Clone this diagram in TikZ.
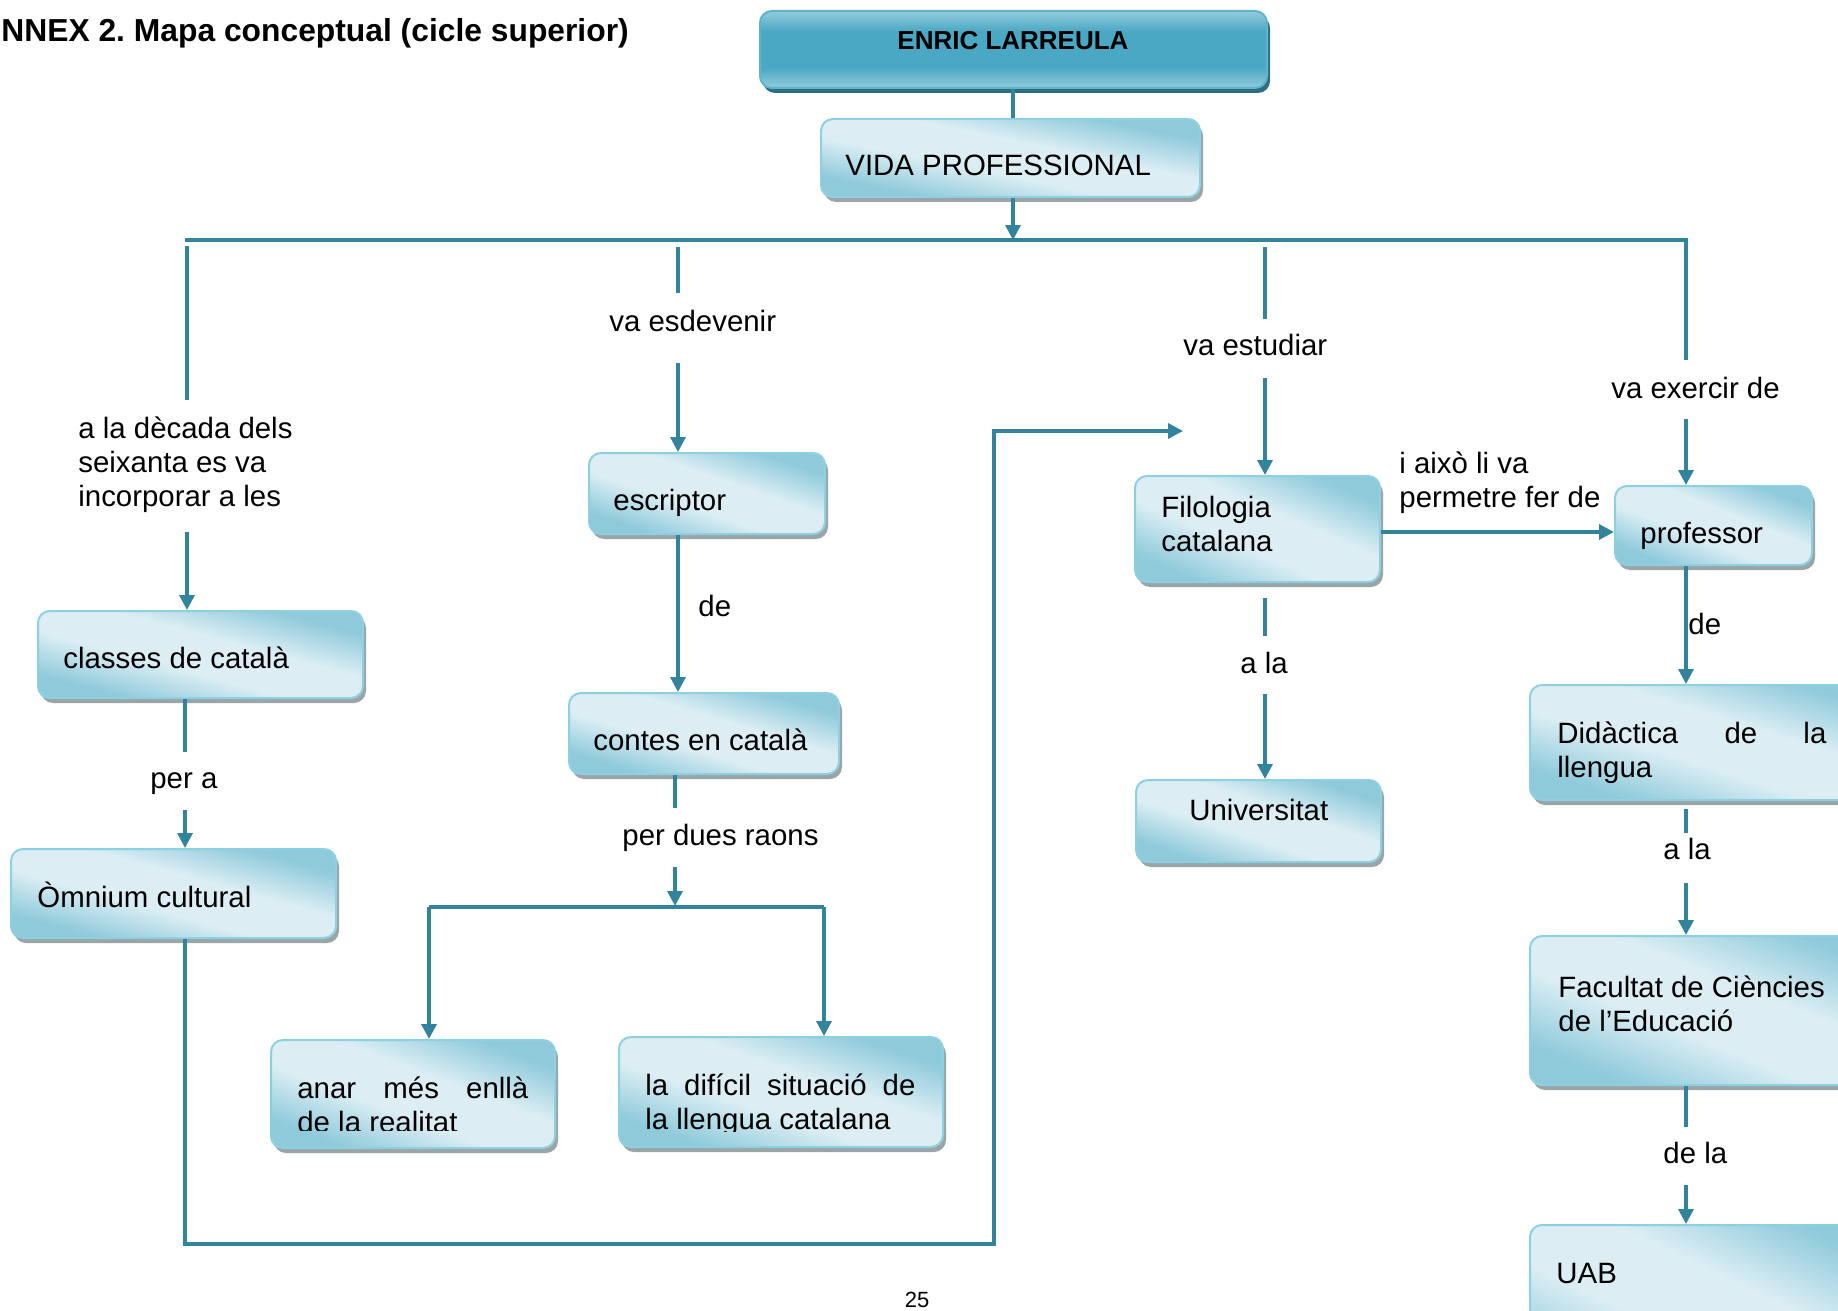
\documentclass[tikz,border=0pt]{standalone}
\usepackage{fontspec}
\setmainfont{Liberation Sans}
\usetikzlibrary{arrows.meta}
\frenchspacing

\definecolor{linec}{HTML}{31849B}
\definecolor{bxlight}{HTML}{DCEEF4}
\definecolor{bxdark}{HTML}{8FCADB}
\definecolor{bxedge}{HTML}{8DD0E2}
\definecolor{bxshadow}{HTML}{9BA5A8}
\definecolor{ttop}{HTML}{93CCDD}
\definecolor{tmid}{HTML}{4BA8C4}
\definecolor{tedge}{HTML}{5FB3CA}
\definecolor{tshadow}{HTML}{2E6F83}

\pgfdeclarehorizontalshading{boxshade}{100bp}{color(0bp)=(bxdark); color(24bp)=(bxdark); color(42bp)=(bxlight); color(58bp)=(bxlight); color(76bp)=(bxdark); color(100bp)=(bxdark)}
\pgfdeclareverticalshading{titleshade}{100bp}{color(0bp)=(ttop); color(25bp)=(ttop); color(38bp)=(tmid); color(62bp)=(tmid); color(75bp)=(ttop); color(100bp)=(ttop)}

\tikzset{
  conn/.style={draw=linec, line width=1.7pt},
  arr/.style={conn, -{Triangle[length=7.5pt,width=7.5pt]}},
  cboxline/.style={rounded corners=6pt, draw=bxedge, line width=1pt, inner sep=0},
  tbox/.style={rounded corners=6pt, draw=tedge, line width=1pt, shade, shading=titleshade, inner sep=0,
    preaction={fill=tshadow, transform canvas={xshift=1.5pt, yshift=-2.5pt}}},
  txt/.style={inner sep=0, font=\fontsize{14.7pt}{17pt}\selectfont, anchor=base west},
}

% concept box: {name}{x1}{y1}{x2}{y2}; grey shadow, diagonal shading, light rim
\newcommand\cbox[5]{%
  \fill[bxshadow, rounded corners=6pt, shift={(3,5)}] (#2,#3) rectangle (#4,#5);
  \begin{scope}
    \clip[rounded corners=6pt] (#2,#3) rectangle (#4,#5);
    \begin{scope}[transform canvas={shift={(#2,#5)}, xscale={(#4-#2)*0.05}, yscale={(#5-#3)*0.05}}]
      \shade[shading=boxshade, shading angle=45] (0pt,0pt) rectangle (10pt,10pt);
    \end{scope}
  \end{scope}
  \node[cboxline, minimum width={(#4-#2)*0.5pt}, minimum height={(#5-#3)*0.5pt}] (#1) at ({(#2+#4)/2},{(#3+#5)/2}) {};}

\begin{document}
\begin{tikzpicture}[x=0.5pt,y=-0.5pt]
\useasboundingbox (0,0) rectangle (1838,1311);

% heading
\node[font=\bfseries\fontsize{15.9pt}{19pt}\selectfont, inner sep=0, anchor=base west] (annex) at (1,42) {NNEX 2. Mapa conceptual (cicle superior)};

% main box
\node[tbox, minimum width=253.5pt, minimum height=38.5pt] (enric) at (1013.5,49.5) {};

% concept boxes
\cbox{vida}{821}{119}{1200}{197}
\cbox{classes}{38}{611}{363}{698}
\cbox{omnium}{11}{849}{336}{938}
\cbox{escr}{589}{453}{825}{534}
\cbox{contes}{569}{693}{839}{774}
\cbox{anar}{271}{1040}{555}{1148}
\cbox{dific}{619}{1037}{943}{1147}
\cbox{filo}{1135}{476}{1380}{582}
\cbox{univ}{1136}{780}{1381}{862}
\cbox{prof}{1615}{486}{1812}{565}
\cbox{didac}{1530}{685}{1900}{800}
\cbox{facul}{1530}{936}{1900}{1085}
\cbox{uab}{1530}{1225}{1900}{1400}

% box texts
\node[inner sep=0, font=\bfseries\fontsize{13pt}{15pt}\selectfont, anchor=base] (enric-t) at (1013,50) {ENRIC LARREULA};
\node[txt] (vida-t) at (845,176) {VIDA PROFESSIONAL};
\node[txt] (classes-t) at (63,668) {classes de català};
\node[txt] (omnium-t) at (37,907) {Òmnium cultural};
\node[txt] (escr-t) at (613,510) {escriptor};
\node[txt] (contes-t) at (593,750) {contes en català};
\begin{scope}
  \clip (271,1030) rectangle (560,1130);
  \node[txt] (anar-t) at (297,1098) {\vtop{\hbox to 115.5pt{anar\hfill més\hfill enllà}\hbox{de la realitat}}};
\end{scope}
\begin{scope}
  \clip (619,1030) rectangle (950,1131);
  \node[txt] (dific-t) at (645,1095) {\vtop{\hbox to 135pt{la\hfill difícil\hfill situació\hfill de}\hbox{la llengua catalana}}};
\end{scope}
\node[txt] (filo-t) at (1161,517) {\vtop{\hbox{Filologia}\hbox{catalana}}};
\node[txt] (univ-t) at (1189,820) {Universitat};
\node[txt] (prof-t) at (1640,543) {professor};
\node[txt] (didac-t) at (1557,743) {\vtop{\hbox to 134.5pt{Didàctica\hfill de\hfill la}\hbox{llengua}}};
\node[txt] (facul-t) at (1558,997) {\vtop{\hbox{Facultat de Ciències}\hbox{de l’Educació}}};
\node[txt] (uab-t) at (1556,1283) {UAB};

% link labels
\node[txt] (lb-decada) at (78,438) {\vtop{\hbox{a la dècada dels}\hbox{seixanta es va}\hbox{incorporar a les}}};
\node[txt] (lb-esdev) at (609,331) {va esdevenir};
\node[txt] (lb-de1) at (698,616) {de};
\node[txt] (lb-pera) at (150,788) {per a};
\node[txt] (lb-raons) at (622,845) {per dues raons};
\node[txt] (lb-estud) at (1183,355) {va estudiar};
\node[txt] (lb-exerc) at (1611,398) {va exercir de};
\node[txt] (lb-permet) at (1399,473) {\vtop{\hbox{i això li va}\hbox{permetre fer de}}};
\node[txt] (lb-ala1) at (1240,673) {a la};
\node[txt] (lb-de2) at (1688,634) {de};
\node[txt] (lb-ala2) at (1663,859) {a la};
\node[txt] (lb-dela) at (1663,1163) {de la};
\node[font=\fontsize{11pt}{13pt}\selectfont, inner sep=0, anchor=base] (pagenum) at (917,1307) {25};

% connectors
\coordinate (busL) at (185,240);
\coordinate (busV) at (1013,240);
\coordinate (busR) at (1686,240);
\coordinate (exTop) at (1686,360);
\draw[conn] (enric.south -| busV) -- (vida.north -| busV);
\draw[arr] (vida.south -| busV) -- (busV);
\draw[conn] (busL) -- (busR) -- (exTop);

\coordinate (a1) at (187,246); \coordinate (a2) at (187,400); \coordinate (a3) at (187,532);
\draw[conn] (a1) -- (a2);
\draw[arr] (a3) -- (a3 |- classes.north);
\coordinate (b1) at (185,752); \coordinate (b2) at (185,810);
\draw[conn] (b1 |- classes.south) -- (b1);
\draw[arr] (b2) -- (b2 |- omnium.north);
\coordinate (loopA) at (185,1244); \coordinate (loopB) at (994,1244);
\coordinate (loopC) at (994,431); \coordinate (loopEnd) at (1183,431);
\draw[arr] (loopA |- omnium.south) -- (loopA) -- (loopB) -- (loopC) -- (loopEnd);

\coordinate (c1) at (678,247); \coordinate (c2) at (678,293); \coordinate (c3) at (678,363);
\draw[conn] (c1) -- (c2);
\draw[arr] (c3) -- (c3 |- escr.north);
\draw[arr] (c3 |- escr.south) -- (c3 |- contes.north);
\coordinate (d1) at (675,808); \coordinate (d2) at (675,867); \coordinate (d3) at (675,906);
\draw[conn] (d1 |- contes.south) -- (d1);
\draw[arr] (d2) -- (d3);
\coordinate (forkL) at (429,907); \coordinate (forkR) at (824,907);
\draw[conn] (forkL) -- (forkR);
\draw[arr] (forkL) -- (forkL |- anar.north);
\draw[arr] (forkR) -- (forkR |- dific.north);

\coordinate (e1) at (1265,247); \coordinate (e2) at (1265,319); \coordinate (e3) at (1265,378);
\draw[conn] (e1) -- (e2);
\draw[arr] (e3) -- (e3 |- filo.north);
\coordinate (f1) at (1380,532);
\draw[arr] (f1 -| filo.east) -- (f1 -| prof.west);
\coordinate (g1) at (1265,598); \coordinate (g2) at (1265,636); \coordinate (g3) at (1265,694);
\draw[conn] (g1) -- (g2);
\draw[arr] (g3) -- (g3 |- univ.north);

\coordinate (h1) at (1686,419);
\draw[arr] (h1) -- (h1 |- prof.north);
\draw[arr] (h1 |- prof.south) -- (h1 |- didac.north);
\coordinate (i1) at (1686,809); \coordinate (i2) at (1686,833); \coordinate (i3) at (1686,883);
\draw[conn] (i1) -- (i2);
\draw[arr] (i3) -- (i3 |- facul.north);
\coordinate (j1) at (1686,1127); \coordinate (j2) at (1686,1185);
\draw[conn] (j1 |- facul.south) -- (j1);
\draw[arr] (j2) -- (j2 |- uab.north);
\end{tikzpicture}
\end{document}
